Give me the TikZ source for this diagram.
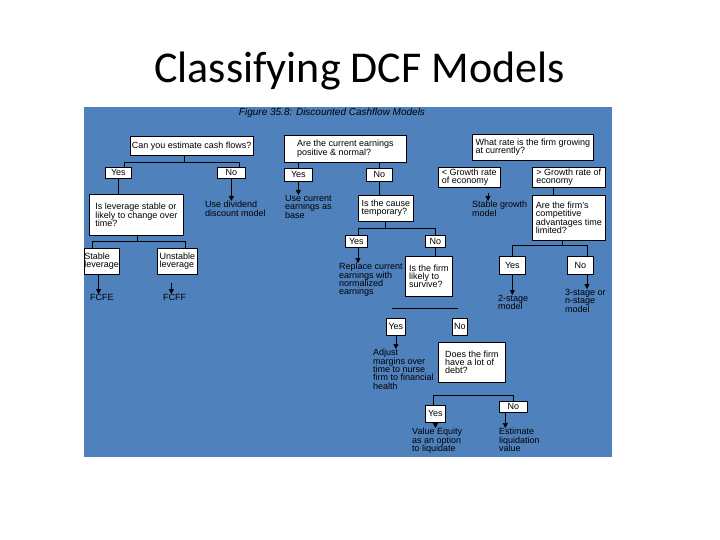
\documentclass[tikz,border=0pt]{standalone}
\usepackage{fontspec}
\setmainfont{Liberation Sans}
\newfontfamily\titlefont{Carlito}
\usepackage{tikz}
\usetikzlibrary{arrows.meta, positioning}
\definecolor{colPanel}{RGB}{79,129,189}
\definecolor{colBox}{RGB}{255,255,255}

\begin{document}
\begin{tikzpicture}[
        x=1pt, y=-1pt,
        font=\fontsize{9}{8.4}\selectfont,
        box/.style={rectangle, draw=black, fill=colBox, line width=0.7pt, anchor=north west, inner xsep=1.5pt, inner ysep=0.5pt, align=left},
        txt/.style={anchor=north west, inner sep=0pt, align=left},
        link/.style={line width=0.7pt},
        arrow/.style={link, -{Triangle[width=5pt, length=5pt]}}
    ]

    \useasboundingbox (0,0) rectangle (720,540);
    \fill[white] (0,0) rectangle (720,540);

    %% ── TITRE ─────────────────────────────────────────
    \node[font=\titlefont\fontsize{44}{50}\selectfont, anchor=base] (title) at (359.5,83) {Classifying DCF Models};

    %% ── FOND BLEU ─────────────────────────────────────
    \fill[colPanel] (84,107) rectangle (612,457);
    \node[font=\fontsize{10}{11}\selectfont\itshape] (fig_cap) at (332,113) {Figure 35.8: Discounted Cashflow Models};

    %% ── BRANCHE 1 : flux estimables ? ─────────────────
    \node[box, minimum width=122pt, minimum height=19pt] (q_cf) at (130,136) {Can you estimate cash flows?};
    \node[box, minimum width=26pt, minimum height=11pt] (cf_yes) at (105,167) {Yes};
    \node[box, minimum width=28pt, minimum height=11pt] (cf_no) at (217,167) {No};
    \node[box, minimum width=94pt, minimum height=41pt] (q_lev) at (89,194) {Is leverage stable or\\likely to change over\\time?};
    \node[box, minimum width=33pt, minimum height=26pt, inner xsep=0pt] (lev_st) at (84,248) {Stable\\leverage};
    \node[box, minimum width=40pt, minimum height=26pt] (lev_un) at (157,248) {Unstable\\leverage};
    \node[txt] (fcfe) at (90,294) {FCFE};
    \node[txt] (fcff) at (163,294) {FCFF};
    \node[txt] (dd) at (205,201) {Use dividend\\discount model};

    %% ── BRANCHE 2 : bénéfices normaux ? ───────────────
    \node[box, minimum width=122pt, minimum height=27pt] (q_earn) at (284,135) {Are the current earnings\\positive \& normal?};
    \node[box, minimum width=28pt, minimum height=13pt] (earn_yes) at (284,168) {Yes};
    \node[box, minimum width=26pt, minimum height=13pt] (earn_no) at (366,168) {No};
    \node[txt] (usecur) at (285,195) {Use current\\earnings as\\base};
    \node[box, minimum width=55pt, minimum height=26pt] (q_temp) at (358,195) {Is the cause\\temporary?};
    \node[box, minimum width=22pt, minimum height=12pt] (temp_yes) at (345,235) {Yes};
    \node[box, minimum width=20pt, minimum height=12pt] (temp_no) at (425,235) {No};
    \node[txt] (repl) at (339,263) {Replace current\\earnings with\\normalized\\earnings};
    \node[box, minimum width=47pt, minimum height=40pt] (q_surv) at (405,256) {Is the firm\\likely to\\survive?};
    \node[box, minimum width=19pt, minimum height=17pt] (surv_yes) at (386,318) {Yes};
    \node[box, minimum width=15pt, minimum height=17pt] (surv_no) at (452,318) {No};
    \node[txt] (adjust) at (373,349) {Adjust\\margins over\\time to nurse\\firm to financial\\health};
    \node[box, minimum width=67pt, minimum height=40pt] (q_debt) at (438,342) {Does the firm\\have a lot of\\debt?};
    \node[box, minimum width=20pt, minimum height=17pt] (debt_yes) at (425,405) {Yes};
    \node[box, minimum width=28pt, minimum height=11pt] (debt_no) at (499,401) {No};
    \node[txt] (veq) at (412,428) {Value Equity\\as an option\\to liquidate};
    \node[txt] (liq) at (499,428) {Estimate\\liquidation\\value};

    %% ── BRANCHE 3 : taux de croissance ────────────────
    \node[box, minimum width=121pt, minimum height=26pt] (q_rate) at (472,134) {What rate is the firm growing\\at currently?};
    \node[box, minimum width=62pt, minimum height=20pt] (g_lo) at (438,167) {< Growth rate\\of economy};
    \node[box, minimum width=73pt, minimum height=20pt] (g_hi) at (532,167) {> Growth rate of\\economy};
    \node[txt] (stable) at (472,201) {Stable growth\\model};
    \node[box, minimum width=73pt, minimum height=45pt] (q_comp) at (532,195) {Are the firm's\\competitive\\advantages time\\limited?};
    \node[box, minimum width=26pt, minimum height=18pt] (comp_yes) at (499,256) {Yes};
    \node[box, minimum width=26pt, minimum height=18pt] (comp_no) at (567,256) {No};
    \node[txt] (two) at (498,295) {2-stage\\model};
    \node[txt] (three) at (565,289) {3-stage or\\n-stage\\model};

    %% ── RACCORDS ──────────────────────────────────────
    \coordinate (cf_m) at (184,162);
    \coordinate (cf_l) at (124,162);
    \coordinate (cf_r) at (239,162);
    \draw[link] (cf_m |- q_cf.south) -- (cf_m);
    \draw[link] (cf_yes.north -| cf_l) -- (cf_l) -- (cf_r) -- (cf_no.north -| cf_r);
    \draw[link] (cf_yes.south) -- (cf_yes.south |- q_lev.north);
    \draw[arrow] (cf_no.south) -- (cf_no.south |- dd.north);

    \coordinate (lev_m) at (137,241);
    \coordinate (lev_l) at (92,241);
    \coordinate (lev_r) at (185,241);
    \draw[link] (lev_m |- q_lev.south) -- (lev_m);
    \draw[link] (lev_st.north -| lev_l) -- (lev_l) -- (lev_r) -- (lev_un.north -| lev_r);
    \draw[arrow] ([xshift=-3pt]lev_st.south) -- ([xshift=-3pt]lev_st.south |- fcfe.north);
    \draw[arrow] ([xshift=-6pt, yshift=-8pt]lev_un.south) -- ([xshift=-6pt]lev_un.south |- fcff.north);

    \draw[link] (earn_yes.north |- q_earn.south) -- (earn_yes.north);
    \draw[link] (earn_no.north |- q_earn.south) -- (earn_no.north);
    \draw[arrow] (earn_yes.south) -- (earn_yes.south |- usecur.north);
    \draw[link] (earn_no.south) -- (earn_no.south |- q_temp.north);

    \coordinate (tp_m) at (385,228);
    \coordinate (tp_l) at (358,228);
    \coordinate (tp_r) at (435,228);
    \draw[link] (tp_m |- q_temp.south) -- (tp_m);
    \draw[link] (temp_yes.north -| tp_l) -- (tp_l) -- (tp_r) -- (temp_no.north -| tp_r);
    \draw[arrow] (temp_yes.south -| tp_l) -- (repl.north -| tp_l);
    \draw[link] (temp_no.south) -- (temp_no.south |- q_surv.north);

    \coordinate (sv_l) at (392,308);
    \coordinate (sv_r) at (458,308);
    \draw[link] (sv_l) -- (sv_r);
    \draw[arrow] (surv_yes.south) -- (surv_yes.south |- adjust.north);

    \coordinate (db_l) at (433,395);
    \coordinate (db_r) at (513,395);
    \draw[link] (debt_yes.north -| db_l) -- (db_l) -- (db_r) -- (debt_no.north -| db_r);
    \draw[arrow] (debt_yes.south) -- (debt_yes.south |- veq.north);
    \draw[arrow] ([xshift=-8pt]debt_no.south) -- ([xshift=-8pt]debt_no.south |- liq.north);

    \coordinate (sg_top) at (488,193);
    \draw[arrow] (sg_top) -- (sg_top |- stable.north);
    \draw[link] ([xshift=-16pt]g_hi.south) -- ([xshift=-16pt]g_hi.south |- q_comp.north);

    \coordinate (cp_m) at (562,245);
    \coordinate (cp_l) at (512,245);
    \coordinate (cp_r) at (587,245);
    \draw[link] (cp_m |- q_comp.south) -- (cp_m);
    \draw[link] (comp_yes.north -| cp_l) -- (cp_l) -- (cp_r) -- (comp_no.north -| cp_r);
    \draw[arrow] (comp_yes.south) -- (comp_yes.south |- two.north);
    \draw[arrow] (comp_no.south -| cp_r) -- (three.north -| cp_r);

\end{tikzpicture}
\end{document}
